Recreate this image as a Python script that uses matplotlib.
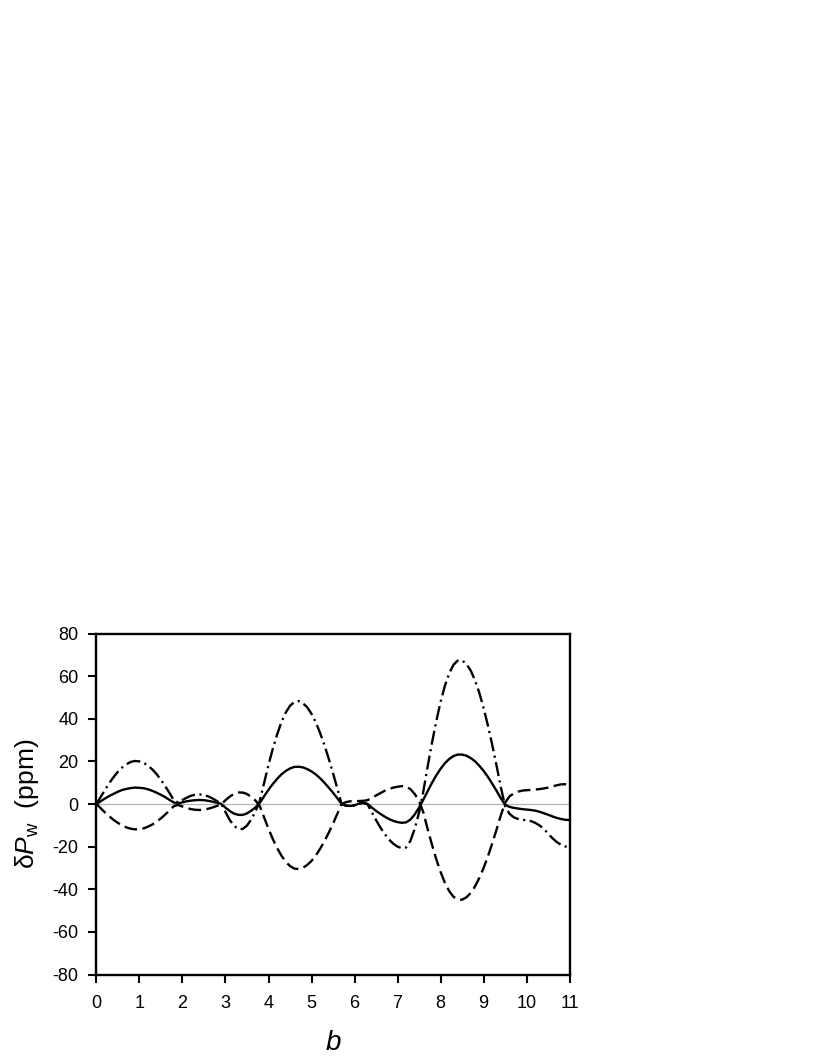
#! /usr/bin/env python3

import numpy as np
import matplotlib
matplotlib.use('Agg')
import matplotlib.pyplot as plt

# values, every 0.1 in b
b = np.round(np.arange(0, 11.05, 0.1), 1)

solid = [0, 1.3, 2.6, 3.8, 4.8, 5.8, 6.6, 7.1, 7.5, 7.7,
         7.6, 7.4, 6.9, 6.2, 5.3, 4.3, 3.2, 1.9, 0.7, 0.3,
         0.8, 1.3, 1.6, 1.8, 1.9, 1.8, 1.5, 1.1, 0.6, 0.1,
         -1.7, -3.3, -4.5, -5.1, -5.1, -4.4, -3.1, -1.5, 0.6, 3.7,
         6.7, 9.4, 11.8, 13.9, 15.5, 16.7, 17.4, 17.5, 17.2, 16.4,
         15.3, 13.9, 12.1, 10.0, 7.7, 5.3, 2.7, 0, -0.7, -0.9,
         -0.6, 0.2, 0.5, 0, -1.6, -3.2, -4.6, -5.9, -7.0, -7.9,
         -8.5, -8.8, -8.6, -7.3, -4.9, -1.7, 2.0, 6.0, 9.9, 13.4,
         16.5, 19.1, 21.1, 22.5, 23.2, 23.2, 22.7, 21.6, 20.1, 18.0,
         15.6, 12.8, 9.6, 6.3, 2.8, -0.3, -1.3, -1.8, -2.1, -2.4,
         -2.6, -2.8, -3.1, -3.6, -4.3, -5.0, -5.8, -6.5, -7.0, -7.4,
         -7.5]

dashed = [0, -2.0, -4.0, -5.8, -7.5, -8.9, -10.1, -11.0, -11.6, -11.9,
          -11.8, -11.4, -10.6, -9.6, -8.2, -6.7, -4.9, -3.0, -1.0, -0.4,
          -1.2, -1.9, -2.4, -2.7, -2.8, -2.6, -2.2, -1.6, -0.9, -0.1,
          1.8, 3.5, 4.8, 5.4, 5.4, 4.7, 3.3, 1.6, -1.1, -6.4,
          -11.6, -16.4, -20.6, -24.2, -27.1, -29.1, -30.3, -30.5, -29.9, -28.6,
          -26.7, -24.2, -21.0, -17.5, -13.5, -9.2, -4.6, 0, 0.9, 1.3,
          1.4, 1.4, 1.5, 1.8, 2.8, 4.0, 5.1, 6.2, 7.0, 7.7,
          8.1, 8.4, 8.2, 7.0, 4.7, 1.6, -3.9, -11.7, -19.0, -25.8,
          -31.8, -36.9, -40.8, -43.5, -44.8, -44.9, -43.8, -41.8, -38.7, -34.8,
          -30.1, -24.7, -18.6, -12.2, -5.5, 0.5, 3.5, 5.0, 5.8, 6.3,
          6.5, 6.6, 6.8, 7.0, 7.3, 7.7, 8.2, 8.8, 9.2, 9.3,
          8.8]

dashdot = [0, 3.4, 6.7, 9.9, 12.7, 15.2, 17.2, 18.7, 19.8, 20.2,
           20.0, 19.3, 18.0, 16.2, 14.0, 11.3, 8.3, 5.1, 1.7, 0.7,
           1.9, 3.0, 3.9, 4.4, 4.5, 4.2, 3.6, 2.6, 1.4, 0.1,
           -3.8, -7.5, -10.3, -11.7, -11.7, -10.1, -7.2, -3.4, 1.7, 10.1,
           18.4, 25.9, 32.6, 38.4, 42.9, 46.1, 47.9, 48.3, 47.3, 45.4,
           42.3, 38.3, 33.3, 27.7, 21.3, 14.5, 7.3, 0, -0.8, -1.0,
           -0.6, 0.2, 0.6, 0, -3.8, -7.5, -11.0, -14.0, -16.6, -18.6,
           -20.0, -20.7, -20.4, -17.3, -11.6, -4.1, 5.9, 17.5, 28.6, 38.8,
           47.8, 55.4, 61.2, 65.3, 67.3, 67.4, 65.8, 62.7, 58.2, 52.3,
           45.2, 37.0, 28.0, 18.3, 8.2, -1.0, -4.5, -6.2, -7.0, -7.4,
           -7.6, -8.0, -8.8, -10.0, -11.6, -13.8, -16.0, -17.8, -19.1, -19.9,
           -20.2]

xticks = list(range(0, 12))
yticks = list(range(-80, 81, 20))

plt.rcParams['font.family'] = ['Liberation Sans', 'DejaVu Sans']
plt.rcParams['axes.unicode_minus'] = False
plt.rcParams['mathtext.fontset'] = 'custom'
plt.rcParams['mathtext.rm'] = 'Liberation Sans'
plt.rcParams['mathtext.it'] = 'Liberation Sans:italic'

fig = plt.figure(figsize=(8.17, 10.58), dpi=100)
ax = fig.add_axes([0.1181, 0.0789, 0.5790, 0.3223])

ax.axhline(0, color='#b4b4b4', lw=0.9, zorder=1)

lw = 1.7
ax.plot(b, solid, color='black', lw=lw, zorder=3)
ax.plot(b, dashed, color='black', lw=lw, dashes=(5.4, 2.3), zorder=3)
ax.plot(b, dashdot, color='black', lw=lw, dashes=(6.0, 1.9, 0.9, 1.9), zorder=3)

ax.set_xlim(0, 11)
ax.set_ylim(-80, 80)
ax.set_xticks(xticks)
ax.set_yticks(yticks)
ax.tick_params(direction='out', length=6, width=1.5, labelsize=13)
ax.tick_params(axis='x', pad=9)
ax.tick_params(axis='y', pad=7)
for sp in ax.spines.values():
    sp.set_linewidth(1.7)

ax.set_xlabel(r'$b$', fontsize=20, labelpad=13)
ax.set_ylabel(r'δ$P_{\rm w}$  (ppm)', fontsize=19, labelpad=8)

plt.savefig('out.png', dpi=100)
